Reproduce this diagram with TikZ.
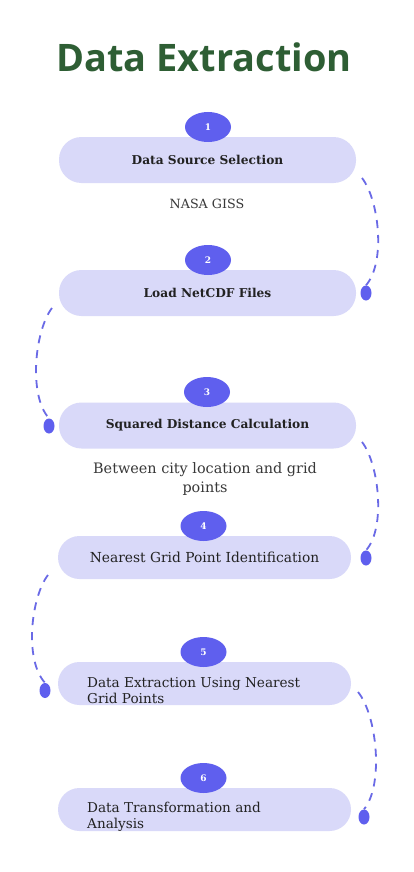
\documentclass[tikz,border=0pt]{standalone}
\usepackage{fontspec}
\setmainfont{DejaVu Serif}
\newfontfamily\titlefont{Open Sans}
\usetikzlibrary{shapes.geometric}
\definecolor{pillc}{HTML}{D9D9F9}
\definecolor{badgec}{HTML}{5F5FEE}
\definecolor{dashc}{HTML}{6A6AE6}
\definecolor{titlec}{HTML}{2E5E34}
\definecolor{txtc}{HTML}{222222}
\tikzset{
  pillA/.style={rectangle, rounded corners=22.5pt, fill=pillc, minimum width=297pt, minimum height=46pt, inner sep=0pt, text=txtc, font=\bfseries\fontsize{12.2}{14}\selectfont},
  pillB/.style={rectangle, rounded corners=21.5pt, fill=pillc, minimum width=293pt, minimum height=43pt, inner sep=0pt, text=txtc, font=\fontsize{13.8}{16}\selectfont},
  badge/.style={ellipse, fill=badgec, minimum width=46pt, minimum height=30pt, inner sep=0pt, text=white, font=\bfseries\fontsize{9}{9}\selectfont},
  dotn/.style={ellipse, fill=badgec, minimum width=11pt, minimum height=15pt, inner sep=0pt},
  link/.style={draw=dashc, line width=1.8pt, dash pattern=on 8pt off 7pt},
  note/.style={text=txtc!90, align=center},
  multi/.style={anchor=west, align=left, inner sep=0pt, text=txtc, font=\fontsize{13.6}{16}\selectfont}
}
\begin{document}
\begin{tikzpicture}[x=1pt, y=-1pt]
\useasboundingbox (0,0) rectangle (414,872);
\fill[white] (0,0) rectangle (414,872);
\node[font=\titlefont\bfseries\fontsize{37.9}{38}\selectfont, text=titlec] (title) at (204,57) {Data Extraction};

\node[pillA] (p1) at (207.5,160) {Data Source Selection};
\node[pillA] (p2) at (207.5,293) {Load NetCDF Files};
\node[pillA] (p3) at (207.5,425.5) {Squared Distance Calculation};
\node[pillB] (p4) at (204.5,557.5) {Nearest Grid Point Identification};
\node[pillB] (p5) at (204.5,683.5) {};
\node[pillB] (p6) at (204.5,809.5) {};
\node[multi] (t5) at (87,691) {Data Extraction Using Nearest\\Grid Points};
\node[multi] (t6) at (87,817) {Data Transformation and\\Analysis};

\node[badge] (b1) at (208,127) {1};
\node[badge] (b2) at (208,260) {2};
\node[badge] (b3) at (207,392) {3};
\node[badge] (b4) at (203.5,526) {4};
\node[badge] (b5) at (203.5,652) {5};
\node[badge] (b6) at (203.5,778) {6};

\node[note, font=\fontsize{12.7}{15}\selectfont] (n1) at (207,204) {NASA GISS};
\node[note, font=\fontsize{14.4}{19}\selectfont] (n3) at (205,479) {Between city location and grid\\points};

\node[dotn] (d2) at (366,293) {};
\node[dotn] (d3) at (49,426) {};
\node[dotn] (d4) at (366,558) {};
\node[dotn] (d5) at (45,690.5) {};
\node[dotn] (d6) at (364,817) {};

\coordinate (s1) at (362,178);
\coordinate (s2) at (52,308);
\coordinate (s3) at (362,442);
\coordinate (s4) at (48,575);
\coordinate (s5) at (358,692);

\draw[link] (s1) .. controls (379,200) and (386,262) .. (d2.north);
\draw[link] (s2) .. controls (35,330) and (28,395) .. (d3.north);
\draw[link] (s3) .. controls (379,464) and (386,528) .. (d4.north);
\draw[link] (s4) .. controls (31,597) and (24,660) .. (d5.north);
\draw[link] (s5) .. controls (377,715) and (384,785) .. (d6.north);
\end{tikzpicture}
\end{document}
